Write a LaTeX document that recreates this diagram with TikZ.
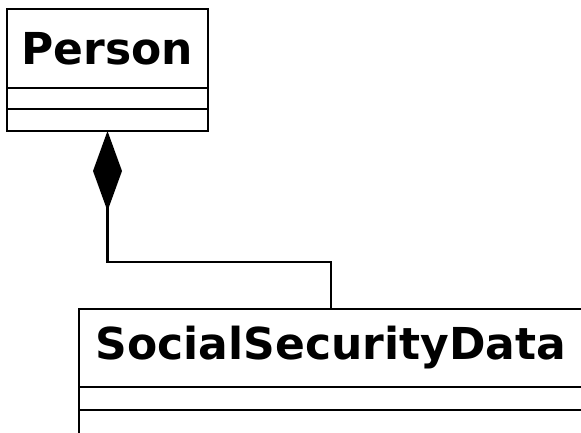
\documentclass[tikz,border=0pt]{standalone}
\usepackage{fontspec}
\setmainfont{DejaVu Sans}
\usepackage{tikz}
\usetikzlibrary{positioning,arrows.meta}

\begin{document}
\begin{tikzpicture}[x=1pt,y=-1pt,
    cname/.style={draw,line width=2.4pt,inner sep=0pt,outer sep=0pt,font=\fontsize{44}{52}\selectfont\bfseries},
    cpart/.style={draw,line width=2.4pt,inner sep=0pt,outer sep=0pt},
    comp/.style={{Diamond[length=80pt,width=29pt]}-,line width=2.4pt}]
                                \useasboundingbox (0,0) rectangle (581,432);
                                \node[cname,minimum width=201pt,minimum height=79pt,anchor=north west] (person) at (7,9) {Person};
                                \node[cpart,minimum width=201pt,minimum height=21pt,below=0pt of person] (personatt) {};
                                \node[cpart,minimum width=201pt,minimum height=22pt,below=0pt of personatt] (personops) {};

                                \node[cname,minimum width=504pt,minimum height=78pt,anchor=north west] (ssd) at (79,309) {SocialSecurityData};
                                \node[cpart,minimum width=504pt,minimum height=23pt,below=0pt of ssd] (ssdatt) {};
                                \node[cpart,minimum width=504pt,minimum height=25pt,below=0pt of ssdatt] (ssdops) {};

                                \draw[comp] (personops.south) |- ([yshift=47pt]ssd.north) -- (ssd.north);
                            \end{tikzpicture}
\end{document}
